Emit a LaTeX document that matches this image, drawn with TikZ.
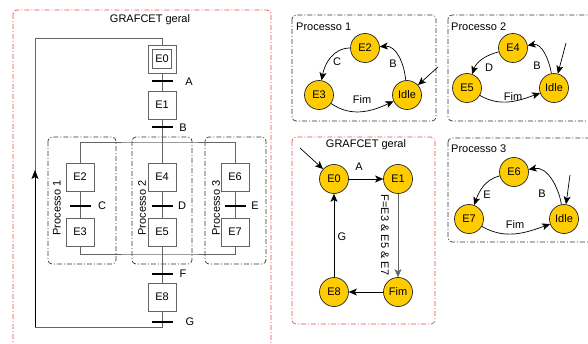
\documentclass[tikz,border=0pt]{standalone}
\usepackage{fontspec}
\setmainfont{Liberation Sans}
\usetikzlibrary{arrows.meta}
\definecolor{gold}{RGB}{255,204,0}
\definecolor{redd}{RGB}{238,72,72}
\definecolor{stepgray}{RGB}{100,100,100}
\begin{document}
\begin{tikzpicture}[x=1pt,y=1pt, font=\fontsize{11}{13}\selectfont,
 stepbox/.style={draw=stepgray, fill=white, minimum size=28pt, inner sep=0pt, line width=0.8pt},
 trans/.style={fill=black, minimum width=21pt, minimum height=2.2pt, inner sep=0pt},
 st/.style={circle, draw=black!85, fill=gold, minimum size=29pt, inner sep=0pt, line width=0.7pt},
 grp/.style={draw=black!80, line width=0.7pt, dash pattern=on 5pt off 2pt on 1pt off 2pt, rounded corners=4pt},
 redgrp/.style={grp, draw=redd},
 conn/.style={draw=stepgray, line width=0.8pt},
 arr/.style={-{Stealth[length=8pt,width=7pt,inset=2pt]}, line width=0.7pt},
 lbl/.style={inner sep=0pt}
]
\useasboundingbox (0,0) rectangle (588,-344);
\clip (0,0) rectangle (588,-344);

% ---------------- left GRAFCET ----------------
\draw[redgrp] (13,-10) rectangle (271,-370);
\node[lbl] (tl) at (150,-20) {GRAFCET geral};

\draw[grp] (48,-137) rectangle (116,-264);
\draw[grp] (132,-137) rectangle (192,-264);
\draw[grp] (205,-137) rectangle (266,-264);
\node[lbl, rotate=90] (g1) at (57,-208) {Processo 1};
\node[lbl, rotate=90] (g2) at (142,-208) {Processo 2};
\node[lbl, rotate=90] (g3) at (216,-208) {Processo 3};

\node[stepbox] (E0) at (162,-59) {};
\node[draw=stepgray, line width=0.8pt, minimum size=19pt, inner sep=0pt] (E0i) at (E0) {E0};
\node[stepbox] (E1) at (162,-105) {E1};
\node[stepbox] (E2) at (80,-177) {E2};
\node[stepbox] (E4) at (162,-177) {E4};
\node[stepbox] (E6) at (235,-177) {E6};
\node[stepbox] (E3) at (80,-232) {E3};
\node[stepbox] (E5) at (162,-232) {E5};
\node[stepbox] (E7) at (235,-232) {E7};
\node[stepbox] (E8) at (162,-297) {E8};

\coordinate (sp) at (162,-142);
\coordinate (jn) at (162,-254);
\coordinate (lb) at (35,-327);
\coordinate (la) at (35,-170);
\coordinate (lt) at (35,-38);

\draw[conn] (E0.south) -- (E1.north);
\draw[conn] (E1.south) -- (E4.north);
\draw[conn] (E2.north) |- (sp) -| (E6.north);
\draw[conn] (E2.south) -- (E3.north);
\draw[conn] (E4.south) -- (E5.north);
\draw[conn] (E6.south) -- (E7.north);
\draw[conn] (E3.south) |- (jn) -| (E7.south);
\draw[conn] (E5.south) -- (E8.north);
\draw[conn] (E8.south) |- (lb);
\draw[conn] (lb) -- (la);
\draw[conn] (la) -- (lt) -| (E0.north);
\draw[black, line width=0.8pt, -{Stealth[length=9pt,width=7pt,inset=2pt]}] (lb) -- (la);

\node[trans] (tA) at (162,-81) {};
\node[trans] (tB) at (162,-127) {};
\node[trans] (tC) at (80,-206) {};
\node[trans] (tD) at (162,-206) {};
\node[trans] (tE) at (235,-206) {};
\node[trans] (tF) at (162,-274) {};
\node[trans] (tG) at (162,-322) {};
\node[lbl] (lA) at (189,-82) {A};
\node[lbl] (lB) at (183,-128) {B};
\node[lbl] (lC) at (102,-206) {C};
\node[lbl] (lD) at (182,-206) {D};
\node[lbl] (lE) at (255,-206) {E};
\node[lbl] (lF) at (183,-274) {F};
\node[lbl] (lG) at (190,-322) {G};

% ---------------- Processo 1 ----------------
\draw[grp] (292,-15) rectangle (436,-121);
\node[lbl, anchor=west] (h1) at (296,-27) {Processo 1};
\node[st] (aE2) at (365,-48) {E2};
\node[st] (aE3) at (319,-95) {E3};
\node[st] (aI) at (407,-95) {Idle};
\coordinate (aS) at (438,-67);
\draw[arr] (aE2) to[out=180,in=80] (aE3);
\draw[arr] (aI) to[out=95,in=5] (aE2);
\draw[arr] (aE3) to[out=-35,in=205] (aI);
\draw[arr] (aS) -- (aI);
\node[lbl] (aC) at (337,-62) {C};
\node[lbl] (aB) at (393,-64) {B};
\node[lbl] (aF) at (362,-100) {Fim};

% ---------------- Processo 2 ----------------
\draw[grp] (448,-15) rectangle (610,-121);
\node[lbl, anchor=west] (h2) at (451,-27) {Processo 2};
\node[st] (bE4) at (513,-48) {E4};
\node[st] (bE5) at (467,-88) {E5};
\node[st] (bI) at (554,-88) {Idle};
\coordinate (bS) at (566,-43);
\draw[arr] (bE4) to[out=195,in=70] (bE5);
\draw[arr] (bI) to[out=100,in=10] (bE4);
\draw[arr] (bE5) to[out=-30,in=200] (bI);
\draw[arr] (bS) -- (bI);
\node[lbl] (bD) at (489,-68) {D};
\node[lbl] (bB) at (537,-66) {B};
\node[lbl] (bF) at (513,-97) {Fim};

% ---------------- GRAFCET geral (graph) ----------------
\draw[redgrp] (292,-137) rectangle (435,-324);
\node[lbl] (h3) at (366,-145) {GRAFCET geral};
\node[st] (cE0) at (334,-179) {E0};
\node[st] (cE1) at (398,-179) {E1};
\node[st] (cE8) at (334,-292) {E8};
\node[st] (cF) at (398,-292) {Fim};
\coordinate (cS) at (300,-148);
\draw[arr] (cS) -- (cE0);
\draw[arr] (cE0) -- (cE1);
\draw[arr, draw=stepgray] (cE1) -- (cF);
\draw[arr] (cF) -- (cE8);
\draw[arr] (cE8) -- (cE0);
\node[lbl] (cA) at (359,-167) {A};
\node[lbl] (cG) at (342,-237) {G};
\node[lbl, rotate=-90] (cFt) at (385,-235) {F=E3 \& E5 \& E7};

% ---------------- Processo 3 ----------------
\draw[grp] (448,-138) rectangle (610,-242);
\node[lbl, anchor=west] (h4) at (451,-149) {Processo 3};
\node[st] (dE6) at (514,-172) {E6};
\node[st] (dE7) at (469,-219) {E7};
\node[st] (dI) at (564,-219) {Idle};
\coordinate (dS) at (570,-175);
\draw[arr] (dE6) to[out=195,in=70] (dE7);
\draw[arr] (dI) to[out=100,in=10] (dE6);
\draw[arr] (dE7) to[out=-30,in=200] (dI);
\draw[arr] (dS) -- (dI);
\node[lbl] (dE) at (487,-195) {E};
\node[lbl] (dB) at (542,-194) {B};
\node[lbl] (dF) at (515,-225) {Fim};
\end{tikzpicture}
\end{document}
